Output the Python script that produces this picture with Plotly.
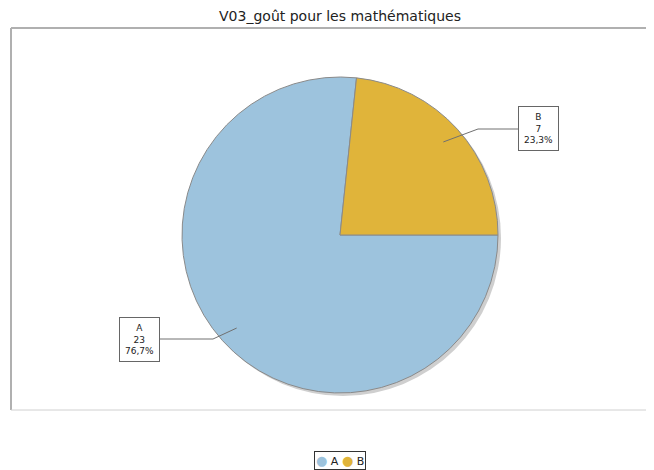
import math
import plotly.graph_objects as go

labels = ["A", "B"]
values = [23, 7]
colors = ["#9DC3DD", "#E0B43A"]
title = "V03_goût pour les mathématiques"

# page body has an 8px margin: figure placed at (8, 8) inside the 654x470 window
OFF = 8
W, H = 654 - OFF, 470 - OFF
cx, cy, R = 340, 235, 158  # window pixel coordinates
start_deg = 90  # clockwise from 12 o'clock

def px(x):
    return (x - OFF) / W

def py(y):
    return 1 - (y - OFF) / H

fig = go.Figure()
fig.add_trace(go.Pie(
    labels=labels, values=values, sort=False, direction="clockwise", rotation=start_deg,
    marker=dict(colors=colors, line=dict(color="#8a8a8a", width=1)),
    textinfo="none", hoverinfo="label+value+percent", showlegend=False,
    domain=dict(x=[px(cx - R), px(cx + R)], y=[py(cy + R), py(cy - R)]),
))

shapes = []
# plot frame
shapes.append(dict(type="line", xref="paper", yref="paper", x0=px(11), x1=px(670), y0=py(28), y1=py(28),
                   line=dict(color="#b0b0b0", width=2)))
shapes.append(dict(type="line", xref="paper", yref="paper", x0=px(11), x1=px(11), y0=py(28), y1=py(410),
                   line=dict(color="#b0b0b0", width=2)))
shapes.append(dict(type="line", xref="paper", yref="paper", x0=px(11), x1=px(670), y0=py(410), y1=py(410),
                   line=dict(color="#d0d0d0", width=1)))
# shadow
shapes.append(dict(type="circle", xref="paper", yref="paper", layer="below",
                   x0=px(cx - R + 3), x1=px(cx + R + 3), y0=py(cy + R + 3), y1=py(cy - R + 3),
                   fillcolor="#cfcfcf", line=dict(width=0)))

total = sum(values)
label_boxes = {"A": (139, 339, 213), "B": (538, 129, 478)}  # box center x, y, elbow x
box_edge = {"A": 157, "B": 521}
annotations = []
acc = 0
for lab, v in zip(labels, values):
    frac = v / total
    mid = start_deg + 360 * (acc + frac / 2)
    acc += frac
    ax = cx + 0.88 * R * math.sin(math.radians(mid))
    ay = cy - 0.88 * R * math.cos(math.radians(mid))
    bx, by, ex = label_boxes[lab]
    shapes.append(dict(type="path", xref="paper", yref="paper",
                       path=f"M {px(ax)} {py(ay)} L {px(ex)} {py(by)} L {px(box_edge[lab])} {py(by)}",
                       line=dict(color="#707070", width=1)))
    pct = f"{frac*100:.1f}".replace(".", ",") + "%"
    annotations.append(dict(xref="paper", yref="paper", x=px(bx), y=py(by), showarrow=False,
                            text=f"{lab}<br>{v}<br>{pct}", font=dict(size=9, color="#222"),
                            bgcolor="white", bordercolor="#666", borderwidth=1, borderpad=5,
                            xanchor="center", yanchor="middle", align="center"))

# legend (circle markers) drawn as an annotation
legend_text = " ".join(f"<span style='color:{c};font-size:13px'>●</span> {l}" for l, c in zip(labels, colors))
annotations.append(dict(xref="paper", yref="paper", x=px(340), y=py(460), showarrow=False,
                        text=legend_text, font=dict(size=11, color="#222"),
                        bgcolor="white", bordercolor="#333", borderwidth=1, borderpad=1,
                        xanchor="center", yanchor="middle"))

fig.update_layout(
    width=W, height=H, margin=dict(l=0, r=0, t=0, b=0, autoexpand=False),
    paper_bgcolor="white", plot_bgcolor="white",
    font=dict(family="DejaVu Sans", color="#222"),
    title=dict(text=title, x=px(340), xanchor="center", y=py(16), yanchor="middle",
               font=dict(size=14, color="#222")),
    showlegend=False,
    shapes=shapes, annotations=annotations,
)

fig.write_html("out.html")
